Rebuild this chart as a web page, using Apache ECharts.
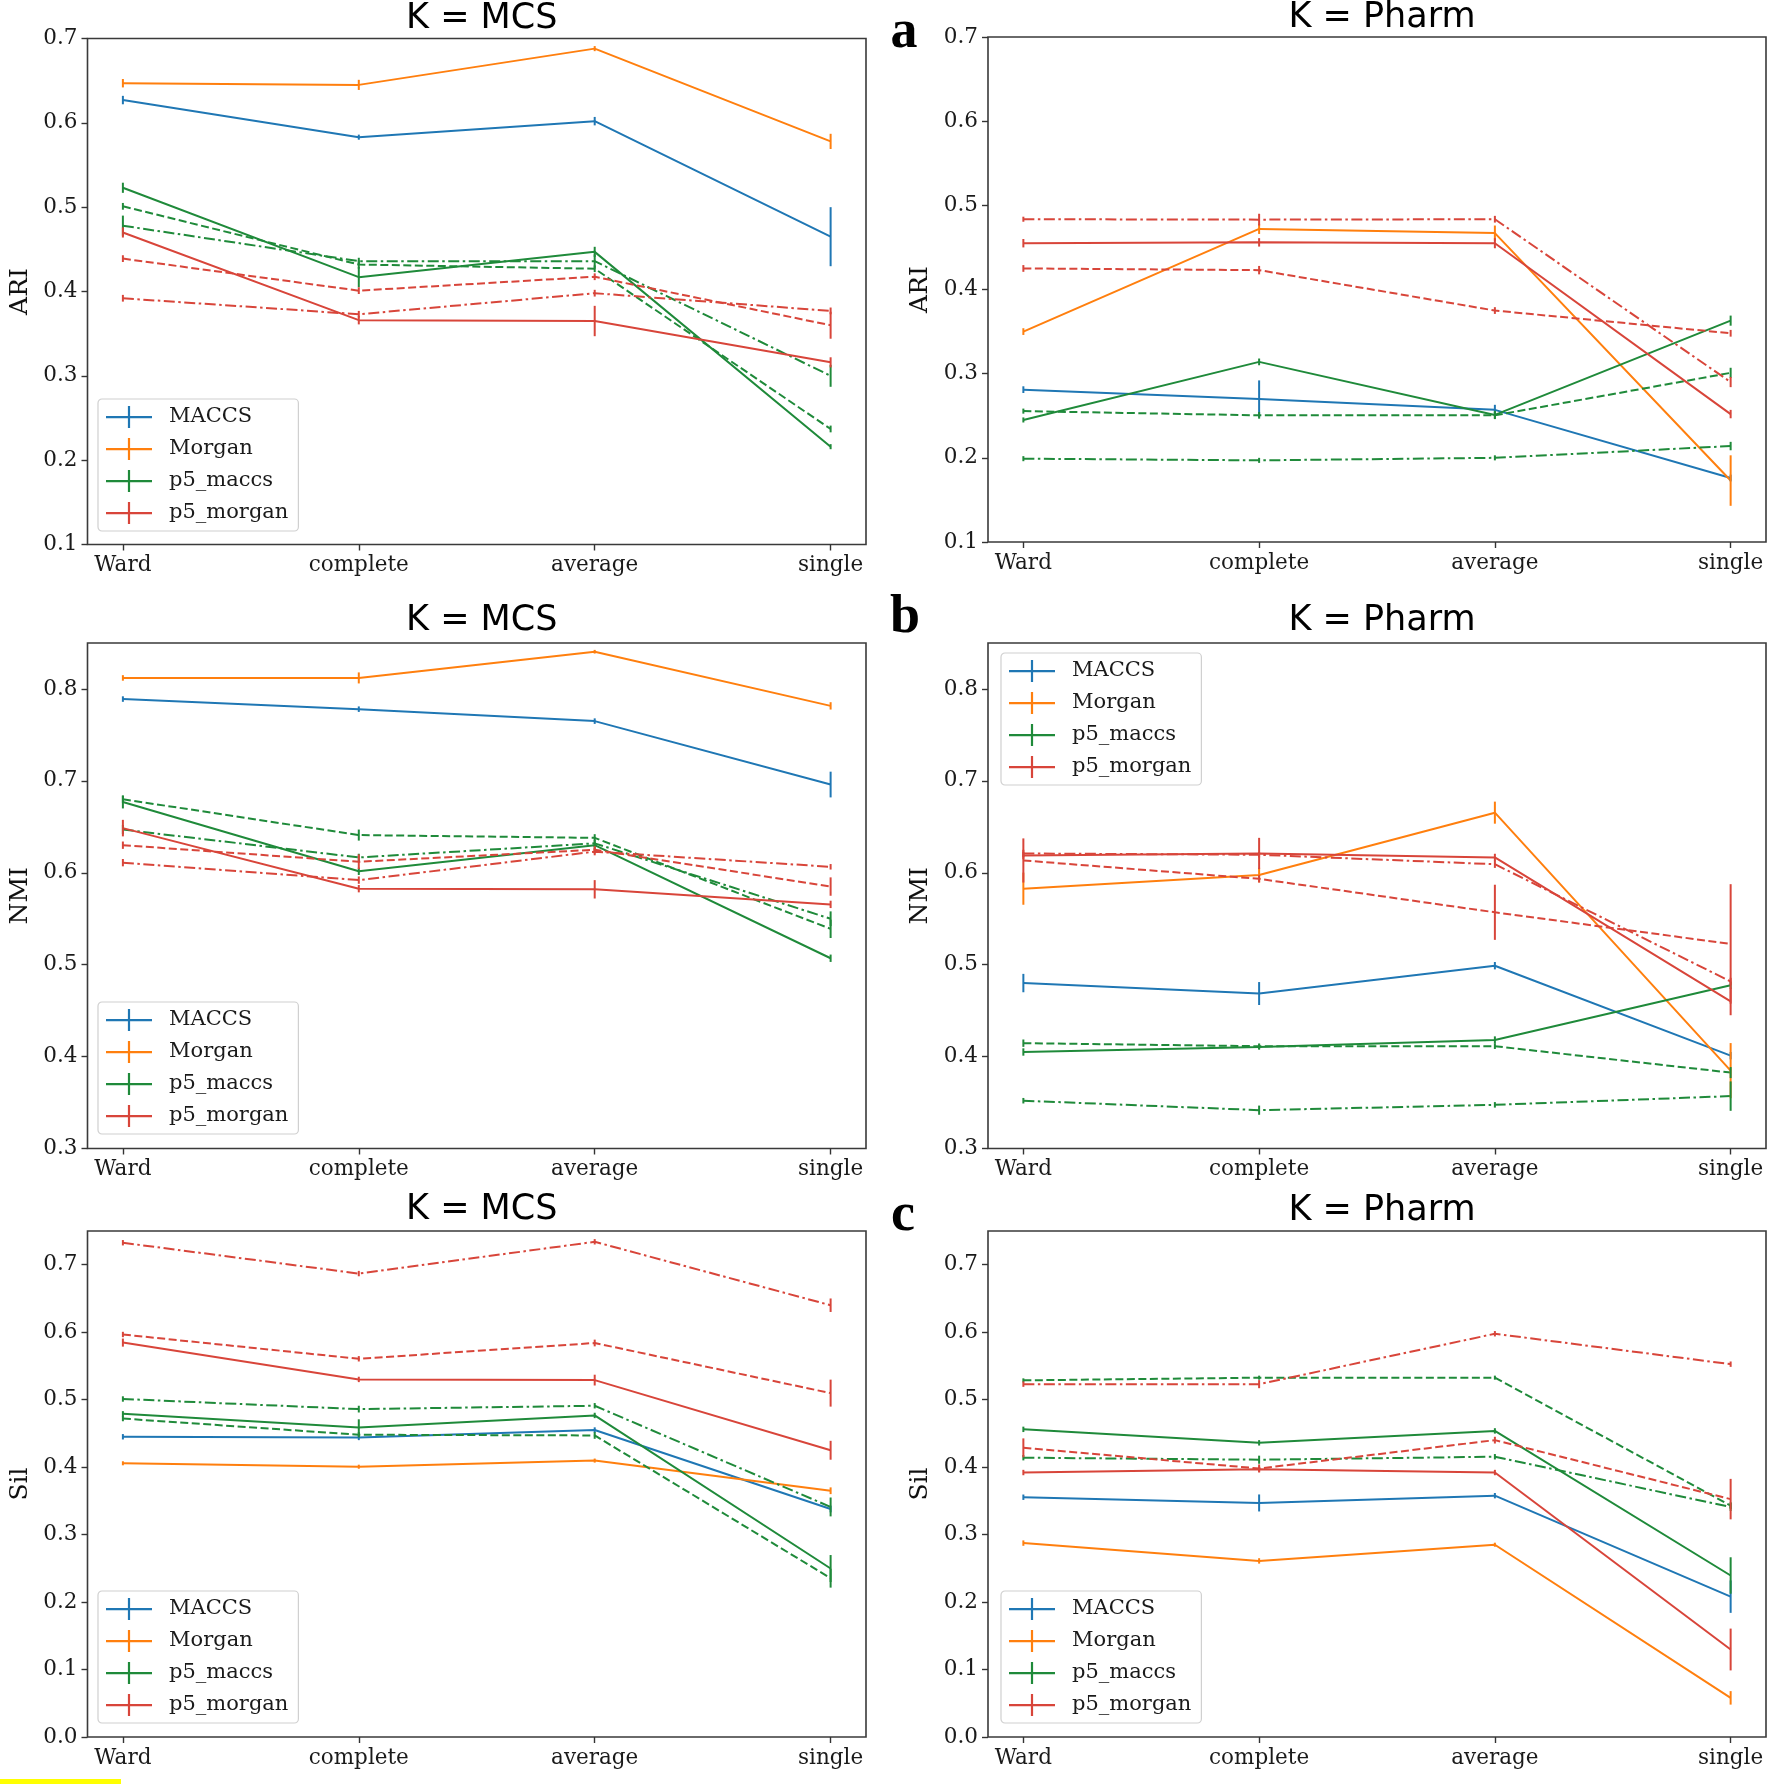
<!DOCTYPE html>
<html>
<head>
<meta charset="utf-8">
<script src="https://cdn.jsdelivr.net/npm/echarts@6/dist/echarts.min.js"></script>
<style>html,body{margin:0;padding:0;background:#fff}#c{width:1770px;height:1784px}</style>
</head>
<body>
<div id="c"></div>
<script>
// ---------- categories & ticks ----------
const METHODS = ['Ward', 'complete', 'average', 'single'];
const X_TICKS = [0, 1, 2, 3];
const ARI_TICKS = [0.1, 0.2, 0.3, 0.4, 0.5, 0.6, 0.7];
const NMI_TICKS = [0.3, 0.4, 0.5, 0.6, 0.7, 0.8];
const SIL_TICKS = [0.0, 0.1, 0.2, 0.3, 0.4, 0.5, 0.6, 0.7];
const LEGEND_NAMES = ['MACCS', 'Morgan', 'p5_maccs', 'p5_morgan'];

// series order: MACCS, Morgan, p5_maccs (solid, dashed, dash-dot), p5_morgan (solid, dashed, dash-dot)
const SERIES_NAMES = ['MACCS', 'Morgan', 'p5_maccs', 'p5_maccs', 'p5_maccs', 'p5_morgan', 'p5_morgan', 'p5_morgan'];

// ---------- values ----------
const ARI_MCS_VALUES = [
  [0.627, 0.583, 0.602, 0.465],
  [0.647, 0.645, 0.688, 0.578],
  [0.523, 0.417, 0.447, 0.216],
  [0.501, 0.432, 0.427, 0.237],
  [0.478, 0.436, 0.436, 0.300],
  [0.470, 0.366, 0.365, 0.316],
  [0.439, 0.401, 0.4175, 0.360],
  [0.392, 0.373, 0.398, 0.377]
];
const ARI_MCS_ERRORS = [
  [0.005, 0.003, 0.005, 0.035],
  [0.005, 0.006, 0.003, 0.009],
  [0.006, 0.012, 0.006, 0.003],
  [0.004, 0.005, 0.004, 0.004],
  [0.012, 0.004, 0.008, 0.013],
  [0.006, 0.005, 0.018, 0.006],
  [0.004, 0.004, 0.004, 0.016],
  [0.004, 0.004, 0.004, 0.004]
];
const ARI_PHARM_VALUES = [
  [0.281, 0.270, 0.257, 0.176],
  [0.350, 0.472, 0.467, 0.173],
  [0.245, 0.314, 0.251, 0.363],
  [0.2555, 0.2505, 0.2505, 0.301],
  [0.199, 0.197, 0.200, 0.214],
  [0.455, 0.456, 0.455, 0.252],
  [0.425, 0.423, 0.375, 0.348],
  [0.4835, 0.483, 0.4835, 0.290]
];
const ARI_PHARM_ERRORS = [
  [0.004, 0.022, 0.006, 0.004],
  [0.004, 0.006, 0.009, 0.030],
  [0.003, 0.004, 0.005, 0.006],
  [0.003, 0.004, 0.004, 0.006],
  [0.003, 0.003, 0.003, 0.005],
  [0.005, 0.005, 0.006, 0.005],
  [0.004, 0.005, 0.004, 0.004],
  [0.003, 0.007, 0.004, 0.006]
];
const NMI_MCS_VALUES = [
  [0.789, 0.778, 0.765, 0.696],
  [0.812, 0.812, 0.8405, 0.7816],
  [0.677, 0.6016, 0.630, 0.507],
  [0.680, 0.641, 0.638, 0.539],
  [0.647, 0.6167, 0.632, 0.550],
  [0.6486, 0.5827, 0.582, 0.5656],
  [0.630, 0.612, 0.625, 0.585],
  [0.611, 0.592, 0.623, 0.6065]
];
const NMI_MCS_ERRORS = [
  [0.003, 0.003, 0.003, 0.014],
  [0.003, 0.006, 0.002, 0.004],
  [0.007, 0.004, 0.004, 0.004],
  [0.004, 0.006, 0.004, 0.010],
  [0.005, 0.004, 0.004, 0.008],
  [0.009, 0.004, 0.010, 0.004],
  [0.004, 0.008, 0.004, 0.010],
  [0.004, 0.004, 0.004, 0.003]
];
const NMI_PHARM_VALUES = [
  [0.480, 0.4686, 0.4989, 0.401],
  [0.5827, 0.5975, 0.6654, 0.3847],
  [0.405, 0.4105, 0.418, 0.4776],
  [0.4146, 0.4113, 0.4113, 0.3826],
  [0.352, 0.3417, 0.3475, 0.357],
  [0.6187, 0.621, 0.6167, 0.460],
  [0.6134, 0.5934, 0.557, 0.5226],
  [0.621, 0.6196, 0.6093, 0.4817]
];
const NMI_PHARM_ERRORS = [
  [0.010, 0.0125, 0.004, 0.004],
  [0.0175, 0.008, 0.012, 0.030],
  [0.004, 0.003, 0.004, 0.004],
  [0.004, 0.003, 0.003, 0.006],
  [0.003, 0.005, 0.003, 0.016],
  [0.004, 0.017, 0.004, 0.015],
  [0.024, 0.004, 0.030, 0.065],
  [0.004, 0.003, 0.004, 0.004]
];
const SIL_MCS_VALUES = [
  [0.445, 0.444, 0.455, 0.338],
  [0.4057, 0.4006, 0.4097, 0.365],
  [0.479, 0.4589, 0.4766, 0.2497],
  [0.472, 0.448, 0.447, 0.2354],
  [0.501, 0.486, 0.491, 0.341],
  [0.5846, 0.530, 0.529, 0.425],
  [0.5966, 0.5606, 0.584, 0.5097],
  [0.7326, 0.6869, 0.734, 0.640]
];
const SIL_MCS_ERRORS = [
  [0.004, 0.004, 0.004, 0.005],
  [0.003, 0.003, 0.003, 0.005],
  [0.004, 0.012, 0.004, 0.020],
  [0.004, 0.004, 0.005, 0.014],
  [0.004, 0.005, 0.004, 0.014],
  [0.006, 0.004, 0.008, 0.014],
  [0.004, 0.004, 0.005, 0.020],
  [0.004, 0.004, 0.004, 0.010]
];
const SIL_PHARM_VALUES = [
  [0.3554, 0.3469, 0.3577, 0.208],
  [0.2874, 0.261, 0.285, 0.058],
  [0.456, 0.436, 0.4537, 0.2394],
  [0.5286, 0.5326, 0.5326, 0.343],
  [0.414, 0.411, 0.4154, 0.341],
  [0.392, 0.397, 0.392, 0.1297],
  [0.4286, 0.398, 0.440, 0.3526],
  [0.523, 0.523, 0.5977, 0.5526]
];
const SIL_PHARM_ERRORS = [
  [0.004, 0.0126, 0.004, 0.024],
  [0.004, 0.004, 0.003, 0.010],
  [0.004, 0.004, 0.004, 0.027],
  [0.003, 0.003, 0.003, 0.005],
  [0.004, 0.006, 0.004, 0.006],
  [0.004, 0.004, 0.004, 0.031],
  [0.014, 0.006, 0.005, 0.030],
  [0.004, 0.006, 0.004, 0.004]
];

// ---------- styles ----------
const BLUE = '#1f77b4', ORANGE = '#ff7f0e', GREEN = '#1f8a3a', RED = '#d8453a';
const SERIES_COLORS = [BLUE, ORANGE, GREEN, GREEN, GREEN, RED, RED, RED];
const DASHED = [8, 3.5], DASHDOT = [11, 3.5, 2.5, 3.5];
const SERIES_DASH = ['solid', 'solid', 'solid', DASHED, DASHDOT, 'solid', DASHED, DASHDOT];
const LEGEND_COLORS = [BLUE, ORANGE, GREEN, RED];
const SERIF = '"DejaVu Serif", serif';
const SANS = '"DejaVu Sans", sans-serif';

const PANELS = [
  { title: 'K = MCS', yName: 'ARI', vals: ARI_MCS_VALUES, errs: ARI_MCS_ERRORS, ticks: ARI_TICKS, min: 0.1, max: 0.7,
    grid: { left: 87.5, top: 38.5, width: 778.5, height: 506 }, titleY: 19, legend: { left: 98, top: 399 } },
  { title: 'K = Pharm', yName: 'ARI', vals: ARI_PHARM_VALUES, errs: ARI_PHARM_ERRORS, ticks: ARI_TICKS, min: 0.1, max: 0.7,
    grid: { left: 988, top: 37, width: 778, height: 505 }, titleY: 18, legend: null },
  { title: 'K = MCS', yName: 'NMI', vals: NMI_MCS_VALUES, errs: NMI_MCS_ERRORS, ticks: NMI_TICKS, min: 0.3, max: 0.85,
    grid: { left: 87.5, top: 643, width: 778.5, height: 505.5 }, titleY: 620.5, legend: { left: 98, top: 1002 } },
  { title: 'K = Pharm', yName: 'NMI', vals: NMI_PHARM_VALUES, errs: NMI_PHARM_ERRORS, ticks: NMI_TICKS, min: 0.3, max: 0.85,
    grid: { left: 988, top: 643, width: 778, height: 505.5 }, titleY: 621, legend: { left: 1001, top: 653 } },
  { title: 'K = MCS', yName: 'Sil', vals: SIL_MCS_VALUES, errs: SIL_MCS_ERRORS, ticks: SIL_TICKS, min: 0, max: 0.75,
    grid: { left: 87.5, top: 1231, width: 778.5, height: 506 }, titleY: 1210, legend: { left: 98, top: 1591 } },
  { title: 'K = Pharm', yName: 'Sil', vals: SIL_PHARM_VALUES, errs: SIL_PHARM_ERRORS, ticks: SIL_TICKS, min: 0, max: 0.75,
    grid: { left: 988, top: 1231, width: 778, height: 506 }, titleY: 1210.5, legend: { left: 1001, top: 1591 } }
];
const PANEL_LETTERS = [
  { text: 'a', x: 904, y: 33 },
  { text: 'b', x: 905, y: 618 },
  { text: 'c', x: 903, y: 1216 }
];

// ---------- build option ----------
const LEGEND_ICON = 'path://M0,10h46v2.2h-46z M21.9,0h2.2v22h-2.2z';
const grids = [], xAxes = [], yAxes = [], series = [], legends = [], graphics = [];

PANELS.forEach((p, gi) => {
  grids.push(Object.assign({ show: true, borderColor: '#3a3a3a', borderWidth: 1.6, backgroundColor: 'transparent' }, p.grid));
  xAxes.push({
    type: 'value', gridIndex: gi, min: -0.15, max: 3.15, position: 'bottom',
    axisLine: { show: false, onZero: false },
    splitLine: { show: false },
    axisTick: { show: true, customValues: X_TICKS, length: 6, lineStyle: { color: '#333', width: 1.4 } },
    axisLabel: { customValues: X_TICKS, formatter: v => METHODS[Math.round(v)], margin: 10,
      fontFamily: SERIF, fontSize: 21.5, color: '#1a1a1a' }
  });
  yAxes.push({
    type: 'value', gridIndex: gi, min: p.min, max: p.max, position: 'left',
    name: p.yName, nameLocation: 'middle', nameGap: 55,
    nameTextStyle: { fontFamily: SERIF, fontSize: 25, color: '#111' },
    axisLine: { show: false, onZero: false },
    splitLine: { show: false },
    axisTick: { show: true, customValues: p.ticks, length: 6, lineStyle: { color: '#333', width: 1.4 } },
    axisLabel: { customValues: p.ticks, formatter: v => v.toFixed(1), margin: 10,
      fontFamily: SERIF, fontSize: 21.5, color: '#1a1a1a' }
  });
  p.vals.forEach((vals, si) => {
    const color = SERIES_COLORS[si];
    series.push({
      type: 'line', name: SERIES_NAMES[si], xAxisIndex: gi, yAxisIndex: gi,
      data: vals.map((v, i) => [X_TICKS[i], v]),
      showSymbol: false, symbol: 'none', silent: true,
      lineStyle: { color: color, width: 2, type: SERIES_DASH[si] },
      itemStyle: { color: color }, z: 2
    });
    const errs = p.errs[si];
    series.push({
      type: 'custom', name: 'err_' + gi + '_' + si, xAxisIndex: gi, yAxisIndex: gi,
      data: vals.map((v, i) => [X_TICKS[i], v, errs[i]]),
      encode: { x: 0, y: 1 }, silent: true, z: 3,
      itemStyle: { color: color },
      renderItem: (params, api) => {
        const x = api.value(0), y = api.value(1), e = api.value(2);
        const a = api.coord([x, y - e]);
        const b = api.coord([x, y + e]);
        return { type: 'line', shape: { x1: a[0], y1: a[1], x2: b[0], y2: b[1] },
          style: { stroke: color, lineWidth: 2 } };
      }
    });
  });
  graphics.push({
    type: 'text', x: p.grid.left + p.grid.width / 2 + 5, y: p.titleY,
    style: { text: p.title, font: '35px ' + SANS, fill: '#000', align: 'center', verticalAlign: 'middle' }
  });
  if (p.legend) {
    legends.push({
      orient: 'vertical', left: p.legend.left, top: p.legend.top,
      itemWidth: 46, itemHeight: 22, itemGap: 10,
      padding: [7, 10, 7, 8],
      borderColor: '#d0d0d0', borderWidth: 1.2, borderRadius: 4,
      backgroundColor: 'rgba(255,255,255,0.8)',
      selectedMode: false,
      textStyle: { fontFamily: SERIF, fontSize: 21, color: '#1a1a1a', padding: [0, 0, 0, 12] },
      data: LEGEND_NAMES.map((n, i) => ({ name: n, icon: LEGEND_ICON, itemStyle: { color: LEGEND_COLORS[i], borderWidth: 0 } }))
    });
  }
});

PANEL_LETTERS.forEach(l => {
  graphics.push({
    type: 'text', x: l.x, y: l.y,
    style: { text: l.text, font: 'bold 54px "Liberation Serif", serif', fill: '#000', align: 'center', verticalAlign: 'middle' }
  });
});
graphics.push({ type: 'rect', shape: { x: 0, y: 1779, width: 121, height: 5 }, style: { fill: '#ffff00' } });

const chart = echarts.init(document.getElementById('c'), null, { renderer: 'canvas' });
chart.setOption({
  animation: false,
  backgroundColor: '#ffffff',
  grid: grids, xAxis: xAxes, yAxis: yAxes,
  legend: legends, series: series, graphic: graphics
});
</script>
</body>
</html>
